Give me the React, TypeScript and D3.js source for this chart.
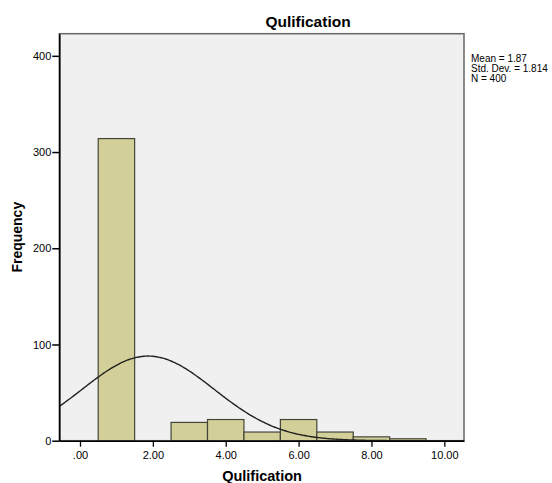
import React, { useRef, useEffect } from 'react';
import * as d3 from 'd3';

// histogram bins (value = bin centre, width 1)
const binCenters = [1, 3, 4, 5, 6, 7, 8, 9];
const binCounts = [314, 19, 22, 9, 22, 9, 4, 2];
const yTicks = [0, 100, 200, 300, 400];
const xTicks = [0, 2, 4, 6, 8, 10];
const stats = { mean: 1.87, sd: 1.814, n: 400 };
const statLines = ['Mean = 1.87', 'Std. Dev. = 1.814', 'N = 400'];

function App() {
  const svgRef = useRef<SVGSVGElement>(null);

  useEffect(() => {
    const W = 552, H = 483;
    const margin = { top: 33.7, right: 88, bottom: 42.3, left: 59.3 };
    const width = W - margin.left - margin.right;
    const height = H - margin.top - margin.bottom;

    const svg = d3.select(svgRef.current)
      .attr('width', W)
      .attr('height', H)
      .style('font-family', 'Liberation Sans, Arial, sans-serif');
    svg.selectAll('*').remove();

    const xScale = d3.scaleLinear().domain([-0.568, 10.54]).range([0, width]);
    const yScale = d3.scaleLinear().domain([0, 423]).range([height, 0]);

    const g = svg.append('g')
      .attr('transform', 'translate(' + margin.left + ',' + margin.top + ')');

    g.append('rect')
      .attr('width', width).attr('height', height)
      .attr('fill', '#f0f0f0')
      .attr('stroke', '#666').attr('stroke-width', 1.5);

    g.append('clipPath').attr('id', 'plotclip')
      .append('rect').attr('width', width).attr('height', height);

    // bars
    g.selectAll('rect.bar')
      .data(binCenters)
      .enter()
      .append('rect')
      .attr('class', 'bar')
      .attr('x', d => xScale(d - 0.5))
      .attr('width', d => xScale(d + 0.5) - xScale(d - 0.5))
      .attr('y', (d, i) => yScale(binCounts[i]))
      .attr('height', (d, i) => height - yScale(binCounts[i]))
      .attr('fill', '#d3cf98')
      .attr('stroke', '#45453a')
      .attr('stroke-width', 1.2);

    // normal curve
    const pdf = (x: number) =>
      stats.n * Math.exp(-0.5 * ((x - stats.mean) / stats.sd) ** 2) / (stats.sd * Math.sqrt(2 * Math.PI));
    const curvePts = d3.range(-0.6, 10.6, 0.05);
    const line = d3.line<number>()
      .x(d => xScale(d))
      .y(d => yScale(pdf(d)))
      .curve(d3.curveBasis);
    g.append('path')
      .datum(curvePts)
      .attr('clip-path', 'url(#plotclip)')
      .attr('fill', 'none')
      .attr('stroke', '#222')
      .attr('stroke-width', 1.4)
      .attr('d', line);

    // axes
    const xAxis = d3.axisBottom(xScale).tickValues(xTicks).tickSize(6).tickSizeOuter(0)
      .tickFormat(d => (d === 0 ? '.00' : d3.format('.2f')(d as number)));
    const xg = g.append('g').attr('transform', 'translate(0,' + height + ')').call(xAxis);
    xg.select('.domain').attr('stroke', '#000').attr('stroke-width', 1.6);
    xg.selectAll('.tick line').attr('stroke-width', 1.3);
    xg.selectAll('text').attr('font-size', 11).attr('fill', '#000').attr('y', 18).attr('dy', 0);

    const yAxis = d3.axisLeft(yScale).tickValues(yTicks).tickSize(7).tickSizeOuter(0);
    const yg = g.append('g').call(yAxis);
    yg.select('.domain').attr('stroke', '#000').attr('stroke-width', 1.6);
    yg.selectAll('text').attr('font-size', 11).attr('fill', '#000').attr('x', -8);
    yg.selectAll('.tick line').attr('stroke-width', 1.5);

    // titles
    svg.append('text')
      .attr('x', 308).attr('y', 27)
      .attr('text-anchor', 'middle')
      .attr('font-size', 15.5).attr('font-weight', 'bold')
      .text('Qulification');

    svg.append('text')
      .attr('x', 262).attr('y', 481)
      .attr('text-anchor', 'middle')
      .attr('font-size', 14.5).attr('font-weight', 'bold')
      .text('Qulification');

    svg.append('text')
      .attr('transform', 'translate(22,' + (margin.top + height / 2) + ')rotate(-90)')
      .attr('text-anchor', 'middle')
      .attr('font-size', 14).attr('font-weight', 'bold')
      .text('Frequency');

    // stats
    svg.append('g').selectAll('text')
      .data(statLines)
      .enter()
      .append('text')
      .attr('x', 471)
      .attr('y', (d, i) => 62 + i * 10)
      .attr('font-size', 10)
      .text(d => d);
  }, []);

  return <svg ref={svgRef} style={{ display: 'block', position: 'absolute', left: 0, top: 0 }}></svg>;
}

export default App;
